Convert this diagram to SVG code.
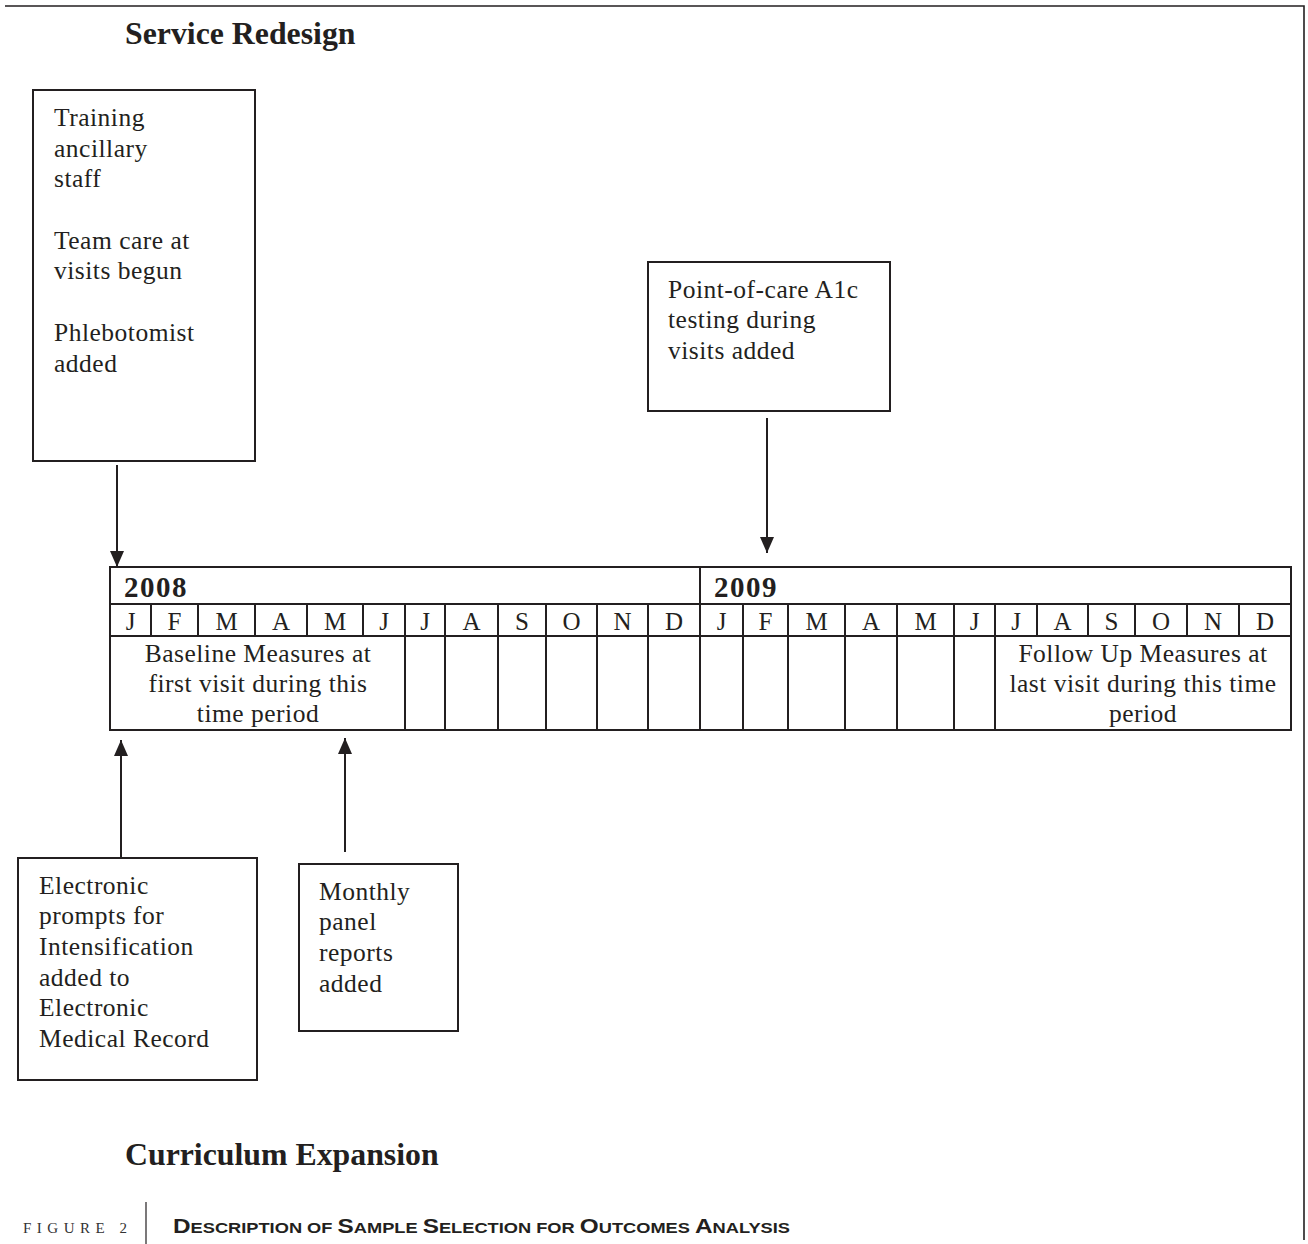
<svg xmlns="http://www.w3.org/2000/svg" width="1308" height="1244" viewBox="0 0 1308 1244">
<defs>
<style>
text{font-family:"Liberation Serif","Times New Roman",serif;fill:#231f20}
.t{font-size:25.5px;letter-spacing:0.5px}
.h{font-size:31.8px;font-weight:bold}
.y{font-size:29px;font-weight:bold;letter-spacing:1.5px}
.m{font-size:25px;text-anchor:middle}
.c{font-size:25.5px;letter-spacing:0.5px;text-anchor:middle}
.box{fill:none;stroke:#231f20;stroke-width:2}
.ln{stroke:#231f20;stroke-width:2;fill:none}
.thin{stroke:#231f20;stroke-width:1.6;fill:none}
.cap{font-family:"Liberation Sans",Arial,sans-serif;font-weight:bold}
</style>
<marker id="ah" markerWidth="16" markerHeight="14" refX="16" refY="7" orient="auto" markerUnits="userSpaceOnUse" viewBox="0 0 16 14">
<path d="M0,0 L16,7 L0,14 Z" fill="#231f20"/>
</marker>
</defs>
<rect width="1308" height="1244" fill="#fff"/>
<path class="thin" d="M5,6 H1304 V1240"/>
<text class="h" x="125" y="44">Service Redesign</text>
<text class="h" x="125" y="1165">Curriculum Expansion</text>

<g id="box-training">
<rect class="box" x="33" y="90" width="222" height="371"/>
<text class="t" x="54" y="126">Training</text>
<text class="t" x="54" y="157">ancillary</text>
<text class="t" x="54" y="187">staff</text>
<text class="t" x="54" y="249">Team care at</text>
<text class="t" x="54" y="279">visits begun</text>
<text class="t" x="54" y="341">Phlebotomist</text>
<text class="t" x="54" y="372">added</text>
</g>
<g id="box-poc">
<rect class="box" x="648" y="262" width="242" height="149"/>
<text class="t" x="668" y="298">Point-of-care A1c</text>
<text class="t" x="668" y="328">testing during</text>
<text class="t" x="668" y="359">visits added</text>
</g>
<g id="box-prompts">
<rect class="box" x="18" y="858" width="239" height="222"/>
<text class="t" x="39" y="894">Electronic</text>
<text class="t" x="39" y="924">prompts for</text>
<text class="t" x="39" y="955">Intensification</text>
<text class="t" x="39" y="986">added to</text>
<text class="t" x="39" y="1016">Electronic</text>
<text class="t" x="39" y="1047">Medical Record</text>
</g>
<g id="box-monthly">
<rect class="box" x="299" y="864" width="159" height="167"/>
<text class="t" x="319" y="900">Monthly</text>
<text class="t" x="319" y="930">panel</text>
<text class="t" x="319" y="961">reports</text>
<text class="t" x="319" y="992">added</text>
</g>

<g id="timeline">
<rect class="box" x="110" y="567" width="1181" height="163"/>
<line class="ln" x1="110" y1="604" x2="1291" y2="604"/>
<line class="ln" x1="110" y1="636" x2="1291" y2="636"/>
<line class="ln" x1="700" y1="567" x2="700" y2="730"/>
<text class="y" x="124" y="597">2008</text>
<text class="y" x="714" y="597">2009</text>
<path class="ln" d="M151,604V636M198,604V636M255,604V636M307,604V636M363,604V636M405,604V730M445,604V730M498,604V730M546,604V730M597,604V730M648,604V730
M743,604V730M788,604V730M845,604V730M897,604V730M954,604V730M995,604V730M1037,604V636M1088,604V636M1135,604V636M1187,604V636M1239,604V636"/>
<g>
<text class="m" x="130.5" y="630">J</text>
<text class="m" x="174.5" y="630">F</text>
<text class="m" x="226.5" y="630">M</text>
<text class="m" x="281" y="630">A</text>
<text class="m" x="335" y="630">M</text>
<text class="m" x="384" y="630">J</text>
<text class="m" x="425" y="630">J</text>
<text class="m" x="471.5" y="630">A</text>
<text class="m" x="522" y="630">S</text>
<text class="m" x="571.5" y="630">O</text>
<text class="m" x="622.5" y="630">N</text>
<text class="m" x="674" y="630">D</text>
<text class="m" x="721.5" y="630">J</text>
<text class="m" x="765.5" y="630">F</text>
<text class="m" x="816.5" y="630">M</text>
<text class="m" x="871" y="630">A</text>
<text class="m" x="925.5" y="630">M</text>
<text class="m" x="974.5" y="630">J</text>
<text class="m" x="1016" y="630">J</text>
<text class="m" x="1062.5" y="630">A</text>
<text class="m" x="1111.5" y="630">S</text>
<text class="m" x="1161" y="630">O</text>
<text class="m" x="1213" y="630">N</text>
<text class="m" x="1265" y="630">D</text>
</g>
<text class="c" x="258" y="662">Baseline Measures at</text>
<text class="c" x="258" y="692">first visit during this</text>
<text class="c" x="258" y="722">time period</text>
<text class="c" x="1143" y="662">Follow Up Measures at</text>
<text class="c" x="1143" y="692">last visit during this time</text>
<text class="c" x="1143" y="722">period</text>
</g>

<g id="connectors">
<line class="ln" x1="117" y1="465" x2="117" y2="567" marker-end="url(#ah)"/>
<line class="ln" x1="767" y1="418" x2="767" y2="553" marker-end="url(#ah)"/>
<line class="ln" x1="121" y1="857" x2="121" y2="740" marker-end="url(#ah)"/>
<line class="ln" x1="345" y1="852" x2="345" y2="738" marker-end="url(#ah)"/>
</g>

<g id="caption">
<text x="23" y="1233" style="font-size:15px;letter-spacing:5.5px;fill:#333">FIGURE 2</text>
<line x1="146" y1="1202" x2="146" y2="1244" stroke="#231f20" stroke-width="1.2"/>
<text class="cap" x="173" y="1233" textLength="617" lengthAdjust="spacingAndGlyphs"><tspan style="font-size:20px">D</tspan><tspan style="font-size:15px">ESCRIPTION OF </tspan><tspan style="font-size:20px">S</tspan><tspan style="font-size:15px">AMPLE </tspan><tspan style="font-size:20px">S</tspan><tspan style="font-size:15px">ELECTION FOR </tspan><tspan style="font-size:20px">O</tspan><tspan style="font-size:15px">UTCOMES </tspan><tspan style="font-size:20px">A</tspan><tspan style="font-size:15px">NALYSIS</tspan></text>
</g>
</svg>
